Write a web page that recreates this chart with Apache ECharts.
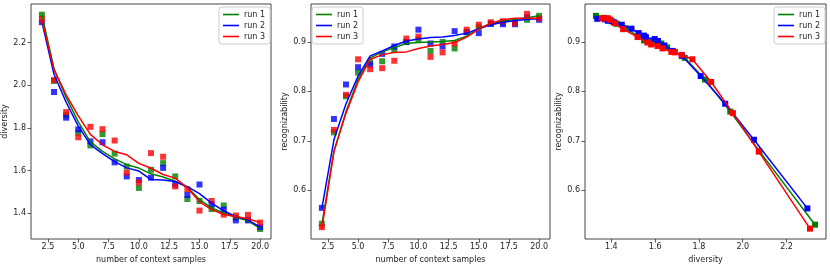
<!DOCTYPE html>
<html>
<head>
<meta charset="utf-8">
<script src="https://cdn.jsdelivr.net/npm/echarts@6/dist/echarts.min.js"></script>
<style>
html,body{margin:0;padding:0;background:#fff;}
#c{width:830px;height:269px;}
</style>
</head>
<body>
<div id="c"></div>
<script>
// number of context samples
const contextSamples = [2,3,4,5,6,7,8,9,10,11,12,13,14,15,16,17,18,19,20];
const runNames = ['run 1','run 2','run 3'];

// raw diversity (scatter)
const rawDiv1 = [2.330,2.020,1.860,1.778,1.718,1.771,1.680,1.619,1.519,1.604,1.635,1.573,1.467,1.458,1.420,1.437,1.380,1.370,1.327];
const rawDiv2 = [2.295,1.968,1.848,1.793,1.737,1.733,1.639,1.573,1.556,1.567,1.613,1.535,1.486,1.535,1.443,1.417,1.367,1.367,1.336];
const rawDiv3 = [2.310,2.024,1.874,1.756,1.805,1.794,1.741,1.591,1.545,1.682,1.665,1.526,1.513,1.413,1.458,1.394,1.390,1.393,1.357];

// smoothed diversity (lines)
const smDiv1 = [2.330,2.076,1.943,1.828,1.735,1.690,1.655,1.628,1.612,1.585,1.570,1.550,1.522,1.465,1.425,1.402,1.382,1.365,1.330];
const smDiv2 = [2.295,2.051,1.920,1.808,1.722,1.680,1.642,1.613,1.598,1.558,1.556,1.549,1.525,1.492,1.448,1.412,1.385,1.370,1.336];
const smDiv3 = [2.307,2.073,1.955,1.856,1.770,1.721,1.690,1.674,1.634,1.611,1.582,1.565,1.520,1.454,1.418,1.395,1.385,1.375,1.357];

// raw recognizability (scatter)
const rawRec1 = [0.532,0.717,0.790,0.838,0.859,0.861,0.884,0.900,0.905,0.882,0.900,0.887,0.920,0.930,0.937,0.940,0.940,0.945,0.953];
const rawRec2 = [0.564,0.744,0.814,0.849,0.854,0.876,0.891,0.900,0.925,0.897,0.891,0.922,0.920,0.918,0.937,0.936,0.936,0.950,0.945];
const rawRec3 = [0.525,0.722,0.793,0.865,0.845,0.847,0.862,0.907,0.911,0.870,0.879,0.897,0.925,0.935,0.940,0.942,0.938,0.957,0.948];

// smoothed recognizability (lines)
const smRec1 = [0.530,0.679,0.759,0.824,0.868,0.880,0.889,0.897,0.899,0.900,0.901,0.903,0.912,0.928,0.937,0.942,0.946,0.949,0.953];
const smRec2 = [0.563,0.702,0.775,0.831,0.872,0.882,0.893,0.902,0.906,0.909,0.910,0.913,0.918,0.927,0.935,0.940,0.943,0.946,0.947];
const smRec3 = [0.522,0.678,0.756,0.819,0.865,0.874,0.879,0.880,0.887,0.892,0.895,0.899,0.910,0.926,0.938,0.945,0.948,0.948,0.948];

// tick labels
const sampleTicks = [2.5,5,7.5,10,12.5,15,17.5,20];
const diversityTicks = [1.4,1.6,1.8,2.0,2.2];
const recogTicks = [0.6,0.7,0.8,0.9];

const colors = ['#008000','#0000ff','#ff0000'];
const rawDiv = [rawDiv1,rawDiv2,rawDiv3];
const smDiv = [smDiv1,smDiv2,smDiv3];
const rawRec = [rawRec1,rawRec2,rawRec3];
const smRec = [smRec1,smRec2,smRec3];

const FONT = 'DejaVu Sans';
const pair = (xa, ya) => xa.map((x,i)=>[x, ya[i]]);

function valAxis(gridIndex, min, max, ticks, name, isX, nameGap){
  return {
    type:'value', gridIndex, min, max,
    name, nameLocation:'middle', nameGap,
    nameTextStyle:{fontFamily:FONT,fontSize:8,color:'#222'},
    axisLine:{show:false, onZero:false},
    splitLine:{show:false},
    axisTick:{show:true, inside:false, length:3.5, lineStyle:{color:'#333',width:0.8}, customValues:ticks},
    axisLabel:{show:true, customValues:ticks, fontFamily:FONT, fontSize:8, color:'#222', margin:isX?4:5,
      formatter:v=>Number(v).toFixed(1)}
  };
}

const grids = [
  {left:31, top:4, width:240, height:239},
  {left:311, top:4, width:239, height:239},
  {left:585, top:4, width:241, height:239}
].map(g=>Object.assign(g,{show:true,borderColor:'#444',borderWidth:1,backgroundColor:'transparent',containLabel:false}));

const xAxes = [
  valAxis(0,1.1,20.9,sampleTicks,'number of context samples',true,17),
  valAxis(1,1.1,20.9,sampleTicks,'number of context samples',true,17),
  valAxis(2,1.28,2.38,diversityTicks,'diversity',true,17)
];
const yAxes = [
  valAxis(0,1.28,2.38,diversityTicks,'diversity',false,19),
  valAxis(1,0.501,0.977,recogTicks,'recognizability',false,19),
  valAxis(2,0.501,0.977,recogTicks,'recognizability',false,18)
];

const series = [];
for(let r=0;r<3;r++){
  series.push({type:'scatter', name:runNames[r]+' pts', xAxisIndex:0, yAxisIndex:0, symbol:'rect', symbolSize:6,
    itemStyle:{color:colors[r]}, z:2, data:pair(contextSamples, rawDiv[r]), silent:true});
  series.push({type:'scatter', name:runNames[r]+' pts', xAxisIndex:1, yAxisIndex:1, symbol:'rect', symbolSize:6,
    itemStyle:{color:colors[r]}, z:2, data:pair(contextSamples, rawRec[r]), silent:true});
}
for(let r=0;r<3;r++){
  series.push({type:'line', name:runNames[r], xAxisIndex:0, yAxisIndex:0, showSymbol:false, symbol:'none',
    lineStyle:{color:colors[r],width:1.5}, itemStyle:{color:colors[r]}, z:3, data:pair(contextSamples, smDiv[r]), animation:false});
  series.push({type:'line', name:runNames[r], xAxisIndex:1, yAxisIndex:1, showSymbol:false, symbol:'none',
    lineStyle:{color:colors[r],width:1.5}, itemStyle:{color:colors[r]}, z:3, data:pair(contextSamples, smRec[r]), animation:false});
  series.push({type:'line', name:runNames[r], xAxisIndex:2, yAxisIndex:2, showSymbol:true, symbol:'rect', symbolSize:6,
    lineStyle:{color:colors[r],width:1.5}, itemStyle:{color:colors[r]}, z:3+r, data:pair(smDiv[r], smRec[r]), animation:false});
}

function legendAt(left){
  return {
    left, top:7, orient:'vertical', icon:'rect', itemWidth:16, itemHeight:1.6, itemGap:2,
    padding:[3,5,3,4], borderColor:'#ccc', borderWidth:1, borderRadius:3, backgroundColor:'rgba(255,255,255,0.8)',
    textStyle:{fontFamily:FONT,fontSize:8,color:'#222',lineHeight:9},
    data:runNames.map((n,i)=>({name:n, itemStyle:{color:colors[i]}})),
    selectedMode:false
  };
}

const chart = echarts.init(document.getElementById('c'), null, {renderer:'canvas'});
chart.setOption({
  animation:false,
  backgroundColor:'#fff',
  grid:grids,
  xAxis:xAxes,
  yAxis:yAxes,
  legend:[legendAt(219), legendAt(312), legendAt(774)],
  series
});
</script>
</body>
</html>
